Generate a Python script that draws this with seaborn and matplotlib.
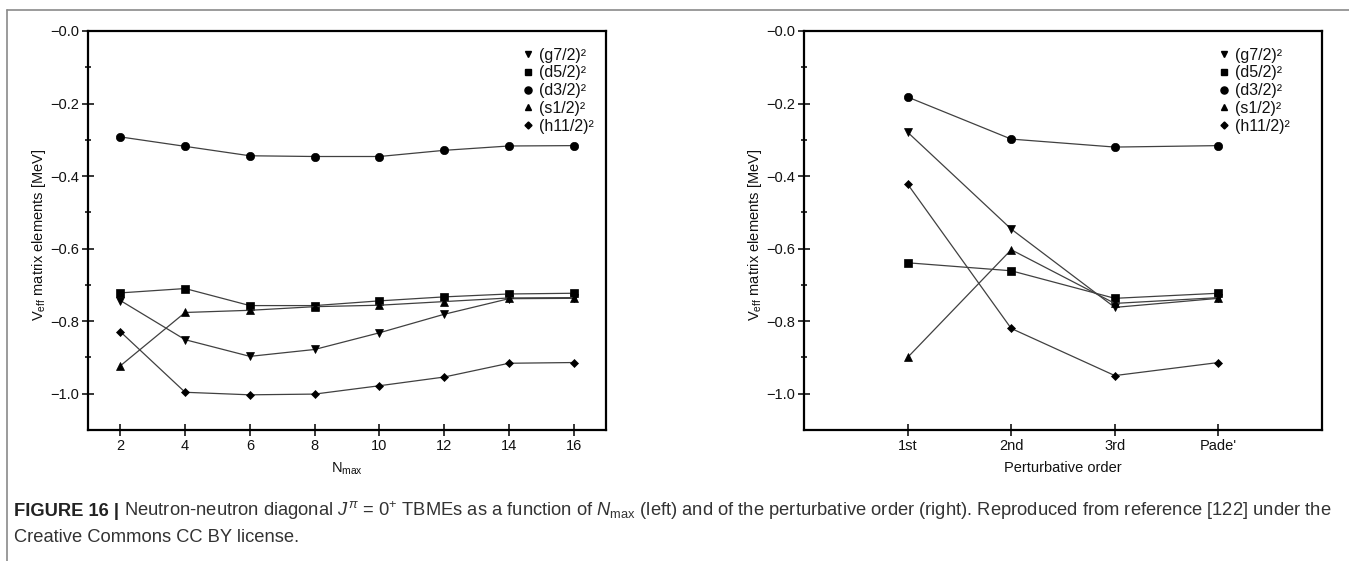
import matplotlib
matplotlib.use("Agg")
import matplotlib.pyplot as plt
from matplotlib.lines import Line2D
from matplotlib.ticker import FixedLocator, FuncFormatter
import seaborn as sns
import pandas as pd

# ---------------- data ----------------
series = ["(g7/2)", "(d5/2)", "(d3/2)", "(s1/2)", "(h11/2)"]
nmax = [2, 4, 6, 8, 10, 12, 14, 16]
g72_n = [-0.743, -0.851, -0.897, -0.878, -0.832, -0.781, -0.738, -0.737]
d52_n = [-0.722, -0.710, -0.757, -0.757, -0.744, -0.733, -0.725, -0.723]
d32_n = [-0.292, -0.318, -0.344, -0.346, -0.346, -0.329, -0.317, -0.316]
s12_n = [-0.923, -0.776, -0.770, -0.760, -0.756, -0.746, -0.736, -0.735]
h112_n = [-0.829, -0.996, -1.003, -1.001, -0.978, -0.954, -0.916, -0.914]

orders = ["1st", "2nd", "3rd", "Pade'"]
g72_o = [-0.279, -0.546, -0.762, -0.737]
d52_o = [-0.639, -0.661, -0.737, -0.723]
d32_o = [-0.182, -0.298, -0.320, -0.316]
s12_o = [-0.900, -0.603, -0.751, -0.735]
h112_o = [-0.422, -0.820, -0.950, -0.914]

yticks_major = [0.0, -0.2, -0.4, -0.6, -0.8, -1.0]
yticks_minor = [-0.1, -0.3, -0.5, -0.7, -0.9]

markers = {"(g7/2)": "v", "(d5/2)": "s", "(d3/2)": "o", "(s1/2)": "^", "(h11/2)": "D"}
msizes = {"(g7/2)": 5.5, "(d5/2)": 5.5, "(d3/2)": 6, "(s1/2)": 5.5, "(h11/2)": 4.2}

def long_df(x, cols):
    rows = []
    for name, vals in zip(series, cols):
        for xi, v in zip(x, vals):
            rows.append({"x": xi, "y": v, "series": name})
    return pd.DataFrame(rows)

df_n = long_df(nmax, [g72_n, d52_n, d32_n, s12_n, h112_n])
df_o = long_df(orders, [g72_o, d52_o, d32_o, s12_o, h112_o])

# ---------------- style ----------------
sns.set_theme(style="white")
fam = ["Liberation Sans Narrow", "Liberation Sans", "DejaVu Sans"]
plt.rcParams["font.family"] = fam
plt.rcParams["mathtext.fontset"] = "custom"
plt.rcParams["mathtext.rm"] = "Liberation Sans"
plt.rcParams["mathtext.it"] = "Liberation Sans:italic"
plt.rcParams["mathtext.bf"] = "Liberation Sans:bold"

FS = 10.5
LFS = 11.5

fig = plt.figure(figsize=(13.49, 5.61), dpi=100)
ax1 = fig.add_axes([88 / 1349, 1 - 430 / 561, 518 / 1349, 399 / 561])
ax2 = fig.add_axes([804 / 1349, 1 - 430 / 561, 518 / 1349, 399 / 561])

fmt = FuncFormatter(lambda v, p: "\u2212%.1f" % abs(v))

def draw(ax, df, leg_right):
    for name in series:
        sub = df[df["series"] == name]
        sns.lineplot(data=sub, x="x", y="y", ax=ax, color="#404040", lw=0.9,
                     marker=markers[name], markersize=msizes[name],
                     markerfacecolor="black", markeredgecolor="black",
                     markeredgewidth=0.5, sort=False, legend=False,
                     estimator=None)
    ax.set_ylim(-1.1, 0.0)
    ax.yaxis.set_major_locator(FixedLocator(yticks_major))
    ax.yaxis.set_minor_locator(FixedLocator(yticks_minor))
    ax.yaxis.set_major_formatter(fmt)
    for sp in ax.spines.values():
        sp.set_linewidth(1.6)
        sp.set_color("black")
        sp.set_visible(True)
    ax.tick_params(axis="both", which="major", direction="inout", length=8.5,
                   width=1.1, color="black", labelsize=FS, pad=2,
                   labelcolor="#111111", left=True, bottom=True)
    ax.tick_params(axis="y", which="minor", direction="inout", length=4.5,
                   width=1.1, color="black", left=True)
    ax.set_ylabel(r"V$_{\rm eff}$ matrix elements [MeV]", fontsize=FS,
                  color="#111111")
    ax.yaxis.set_label_coords(-0.078, 0.49)
    handles = [Line2D([], [], ls="none", marker=markers[s], color="black",
                      markersize=msizes[s] * 0.85) for s in series]
    labels = [s + "\u00b2" for s in series]
    leg = ax.legend(handles, labels, loc="upper right", frameon=False,
                    fontsize=LFS, handlelength=0.7, handletextpad=0.35,
                    labelspacing=0.17, borderaxespad=0.0, borderpad=0.0,
                    bbox_to_anchor=(leg_right, 0.958))
    for t in leg.get_texts():
        t.set_color("#111111")

draw(ax1, df_n, 0.977)
ax1.set_xlim(1, 17)
ax1.set_xticks(nmax)
ax1.set_xlabel(r"N$_{\rm max}$", fontsize=FS, labelpad=6, color="#111111")

draw(ax2, df_o, 0.938)
ax2.set_xlim(-1, 4)
ax2.set_xlabel("Perturbative order", fontsize=FS, labelpad=6, color="#111111")

# figure frame (top and left edges)
fig.add_artist(Line2D([7 / 1349, 1.0], [1 - 10 / 561, 1 - 10 / 561],
                      transform=fig.transFigure, color="#8a8a8a", lw=1.2))
fig.add_artist(Line2D([7 / 1349, 7 / 1349], [1 - 10 / 561, 0.0],
                      transform=fig.transFigure, color="#8a8a8a", lw=1.2))

# caption
cap_fam = ["Liberation Sans", "DejaVu Sans"]
CFS = 13.25
t1 = fig.text(14 / 1349, 1 - 511 / 561, "FIGURE 16 |", fontsize=CFS,
              fontweight="bold", va="center", ha="left", color="#222222",
              family=cap_fam)
ax1.annotate(" Neutron-neutron diagonal $J^{\\pi}$ = 0$^{+}$ TBMEs as a function of "
             "$N_{\\rm max}$ (left) and of the perturbative order (right). "
             "Reproduced from reference [122] under the",
             xy=(1, 0.5), xycoords=t1, va="center", ha="left", fontsize=CFS,
             color="#333333", family=cap_fam, annotation_clip=False)
fig.text(14 / 1349, 1 - 538 / 561, "Creative Commons CC BY license.",
         fontsize=CFS, va="center", ha="left", color="#333333", family=cap_fam)

fig.savefig("out.png", dpi=100)
